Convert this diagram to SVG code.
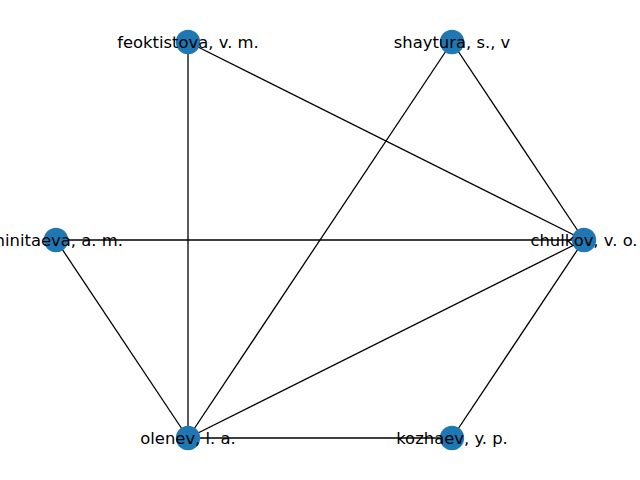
<svg xmlns="http://www.w3.org/2000/svg" width="640" height="480" viewBox="0 0 640 480">
<style>
.e{stroke:#000;stroke-width:1.3;fill:none}
.n{fill:#1f77b4}
.t{font-family:"DejaVu Sans",sans-serif;font-size:16.4px;fill:#000;text-anchor:middle;dominant-baseline:central}
</style>
<rect width="640" height="480" fill="#fff"/>
<g id="edges">
<line class="e" x1="188" y1="42" x2="584" y2="240"/>
<line class="e" x1="188" y1="42" x2="188" y2="438"/>
<line class="e" x1="452" y1="42" x2="584" y2="240"/>
<line class="e" x1="452" y1="42" x2="188" y2="438"/>
<line class="e" x1="56" y1="240" x2="584" y2="240"/>
<line class="e" x1="56" y1="240" x2="188" y2="438"/>
<line class="e" x1="584" y1="240" x2="188" y2="438"/>
<line class="e" x1="584" y1="240" x2="452" y2="438"/>
<line class="e" x1="188" y1="438" x2="452" y2="438"/>
</g>
<g id="node-feoktistova"><circle class="n" cx="188" cy="42" r="12.2"/><text class="t" x="188" y="42">feoktistova, v. m.</text></g>
<g id="node-shaytura"><circle class="n" cx="452" cy="42" r="12.2"/><text class="t" x="452" y="42">shaytura, s., v</text></g>
<g id="node-chulkov"><circle class="n" cx="584" cy="240" r="12.2"/><text class="t" x="584" y="240">chulkov, v. o.</text></g>
<g id="node-minitaeva"><circle class="n" cx="56" cy="240" r="12.2"/><text class="t" x="56" y="240">minitaeva, a. m.</text></g>
<g id="node-olenev"><circle class="n" cx="188" cy="438" r="12.2"/><text class="t" x="188" y="438">olenev, l. a.</text></g>
<g id="node-kozhaev"><circle class="n" cx="452" cy="438" r="12.2"/><text class="t" x="452" y="438">kozhaev, y. p.</text></g>
</svg>
